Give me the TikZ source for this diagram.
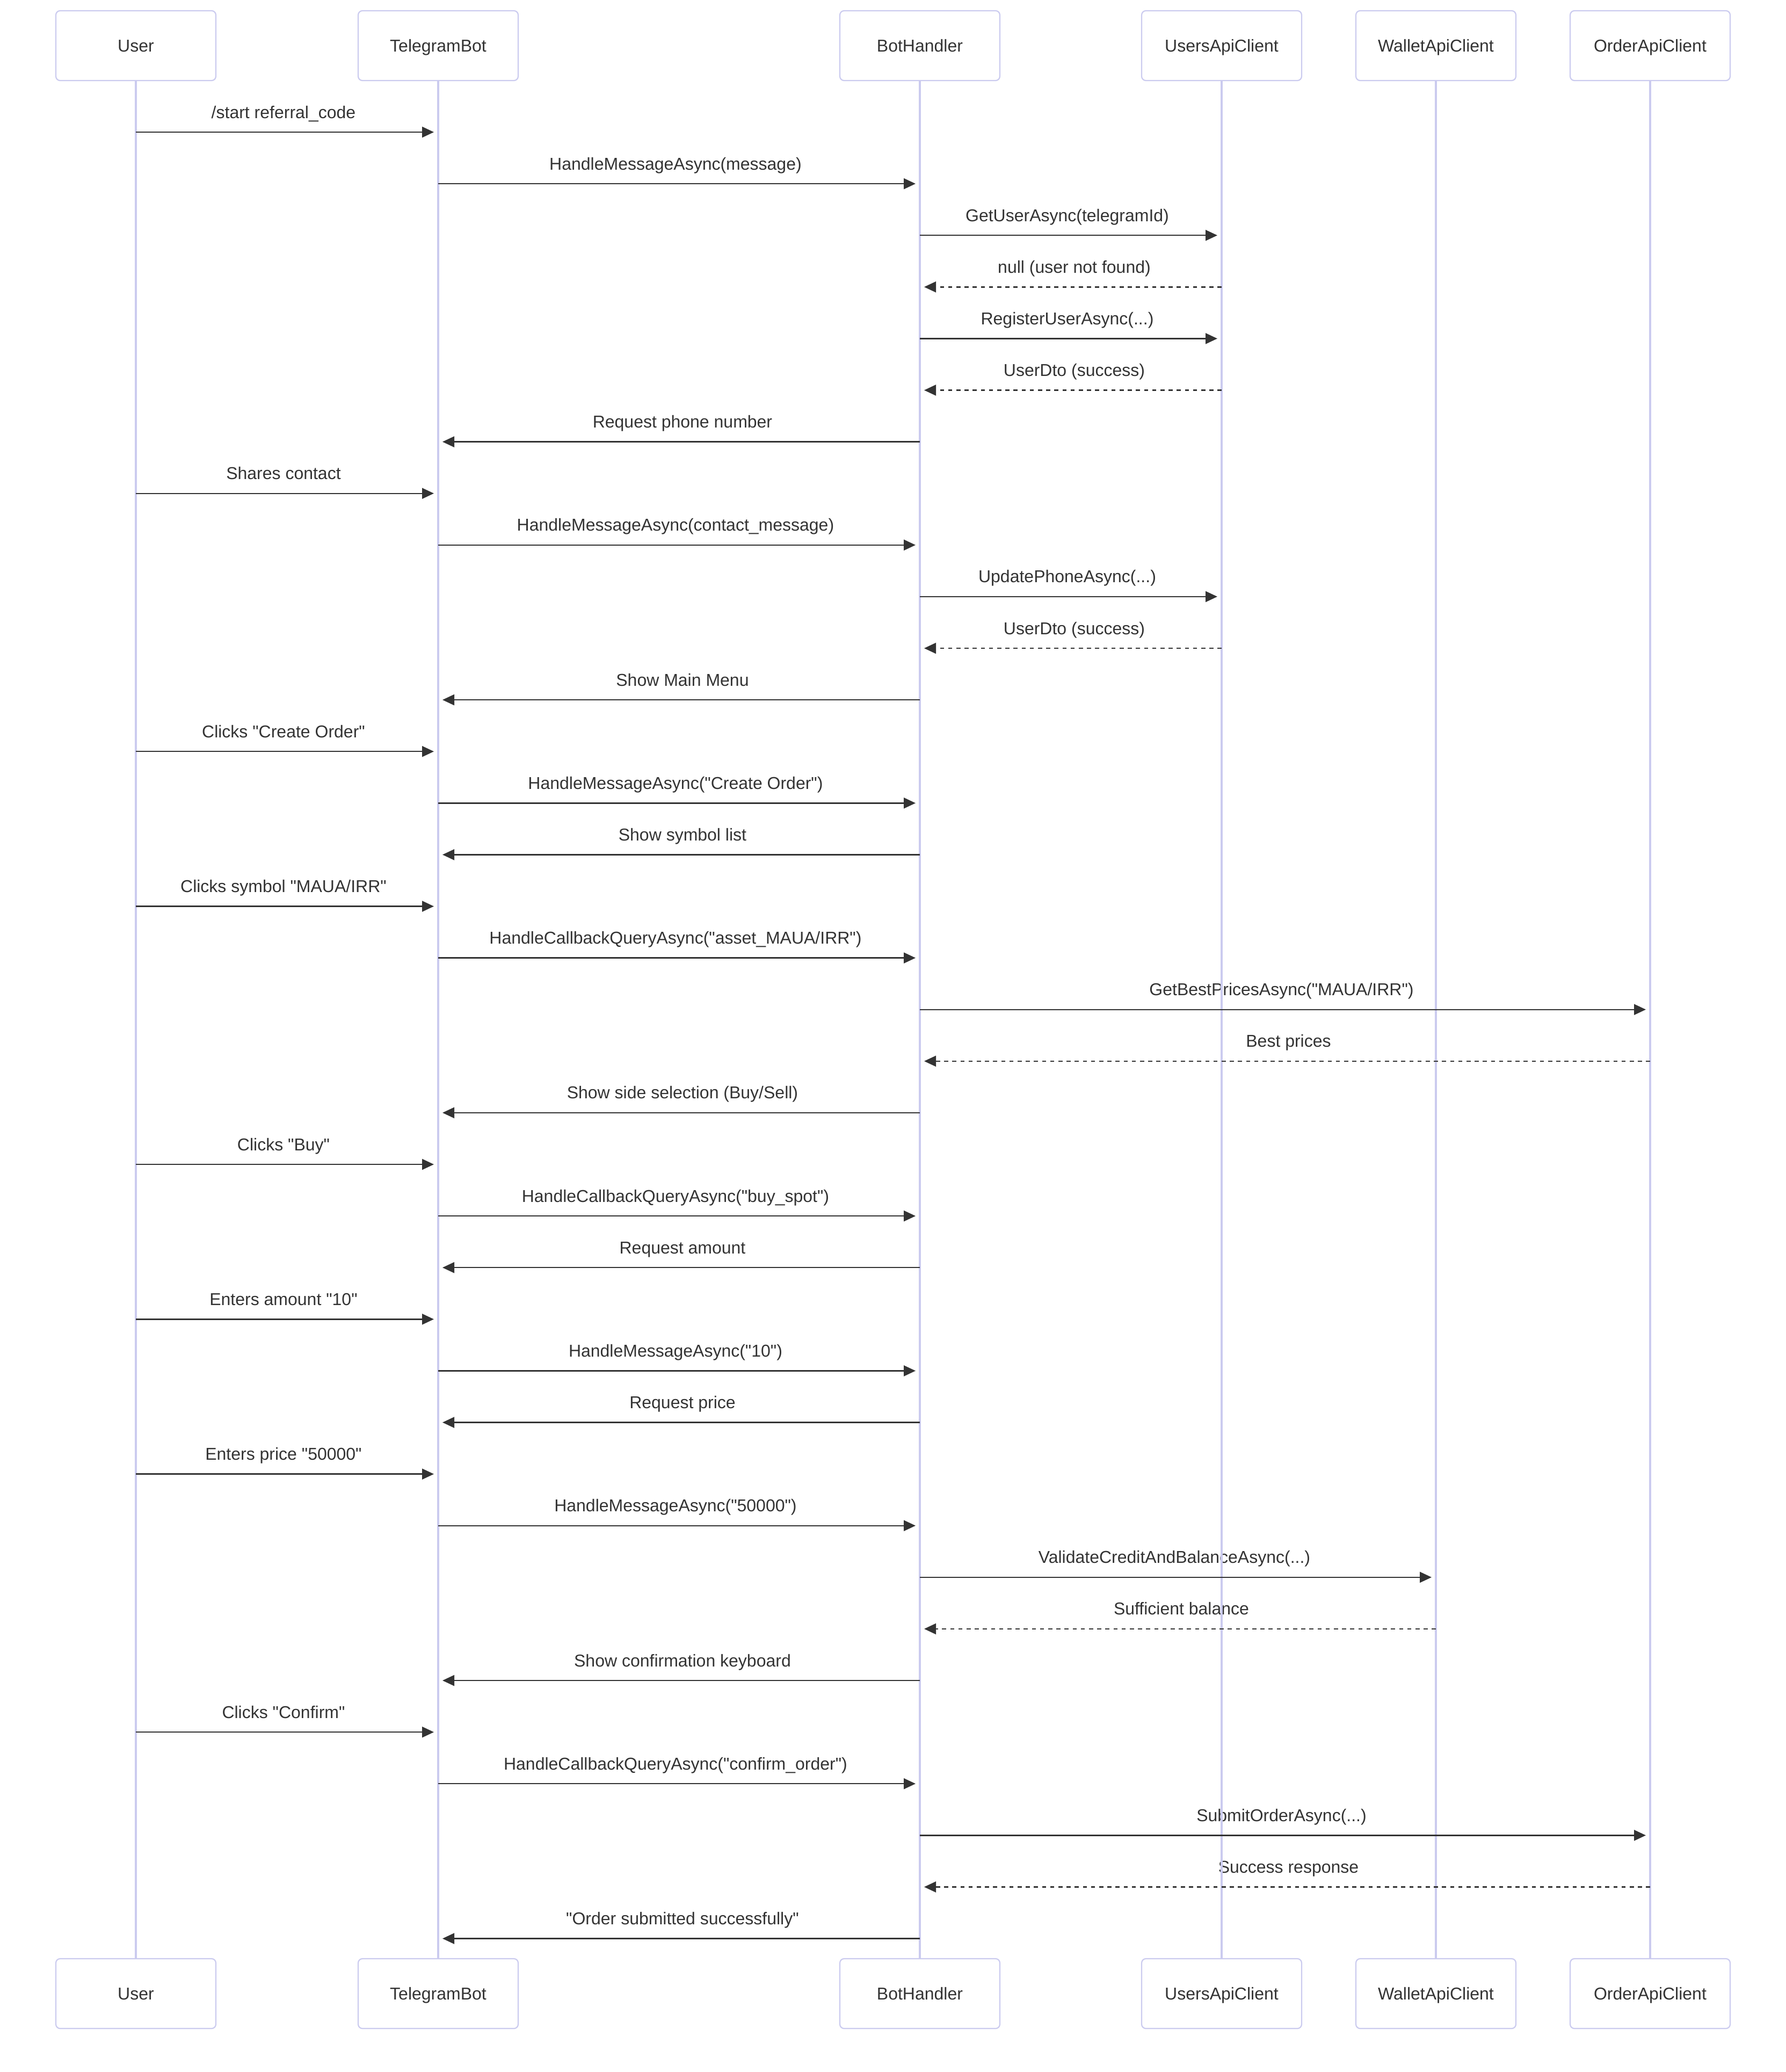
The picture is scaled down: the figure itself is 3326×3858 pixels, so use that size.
\documentclass[tikz,border=0pt]{standalone}
\usepackage{fontspec}
\newfontfamily\lib{Liberation Sans}
\usetikzlibrary{arrows.meta,calc}
\definecolor{lav}{HTML}{CBCBEF}
\definecolor{ink}{HTML}{333333}
\begin{document}
\begin{tikzpicture}[x=0.25pt,y=-0.25pt,
  actor/.style={draw=lav, line width=0.55pt, fill=white, rounded corners=2pt,
    minimum width=74.5pt, minimum height=32.5pt, inner sep=0pt,
    text height=7.5pt, text depth=1.77pt,
    font=\lib\fontsize{8pt}{9.6pt}\selectfont, text=ink},
  life/.style={draw=lav, line width=1pt},
  lbl/.style={font=\lib\fontsize{8pt}{9.6pt}\selectfont, text=ink, anchor=base, inner sep=0pt, yshift=6.5pt},
  req/.style={draw=ink, line width=0.6pt, -{Triangle[length=5.5pt,width=5pt]}, shorten >=2pt},
  ret/.style={req, dash pattern=on 1.9pt off 1.9pt}]
\useasboundingbox (0,0) rectangle (3326,3858);
\foreach \n/\x/\t in {U/253/User, T/816/TelegramBot, B/1713/BotHandler,
  A/2275/UsersApiClient, W/2674/WalletApiClient, O/3073/OrderApiClient}{
  \node[actor] (\n top) at (\x,85) {\t};
  \node[actor] (\n bot) at (\x,3712) {\t};
}
\def\msgs{
 1/U/T/req/{/start referral\_code},
 2/T/B/req/{HandleMessageAsync(message)},
 3/B/A/req/{GetUserAsync(telegramId)},
 4/A/B/ret/{null (user not found)},
 5/B/A/req/{RegisterUserAsync(...)},
 6/A/B/ret/{UserDto (success)},
 7/B/T/req/{Request phone number},
 8/U/T/req/{Shares contact},
 9/T/B/req/{HandleMessageAsync(contact\_message)},
 10/B/A/req/{UpdatePhoneAsync(...)},
 11/A/B/ret/{UserDto (success)},
 12/B/T/req/{Show Main Menu},
 13/U/T/req/{Clicks "Create Order"},
 14/T/B/req/{HandleMessageAsync("Create Order")},
 15/B/T/req/{Show symbol list},
 16/U/T/req/{Clicks symbol "MAUA/IRR"},
 17/T/B/req/{HandleCallbackQueryAsync("asset\_MAUA/IRR")},
 18/B/O/req/{GetBestPricesAsync("MAUA/IRR")},
 19/O/B/ret/{Best prices},
 20/B/T/req/{Show side selection (Buy/Sell)},
 21/U/T/req/{Clicks "Buy"},
 22/T/B/req/{HandleCallbackQueryAsync("buy\_spot")},
 23/B/T/req/{Request amount},
 24/U/T/req/{Enters amount "10"},
 25/T/B/req/{HandleMessageAsync("10")},
 26/B/T/req/{Request price},
 27/U/T/req/{Enters price "50000"},
 28/T/B/req/{HandleMessageAsync("50000")},
 29/B/W/req/{ValidateCreditAndBalanceAsync(...)},
 30/W/B/ret/{Sufficient balance},
 31/B/T/req/{Show confirmation keyboard},
 32/U/T/req/{Clicks "Confirm"},
 33/T/B/req/{HandleCallbackQueryAsync("confirm\_order")},
 34/B/O/req/{SubmitOrderAsync(...)},
 35/O/B/ret/{Success response},
 36/B/T/req/{"Order submitted successfully"}}
\foreach \i/\f/\t/\k/\l in \msgs {
  \pgfmathsetmacro\yy{246+(\i-1)*96.1}
  \coordinate (m\i s) at (\f top.center |- 0,\yy);
  \coordinate (m\i e) at (\t top.center |- 0,\yy);
  \coordinate (m\i f) at ($(m\i e)!3.25pt!(m\i s)$);
  \node[lbl] (l\i) at ($(m\i s)!0.5!(m\i f)$) {\l};
}
\foreach \n in {U,T,B,A,W,O}{
  \draw[life] (\n top.south) -- (\n bot.north);
}
\foreach \i/\f/\t/\k/\l in \msgs {
  \draw[\k] (m\i s) -- (m\i e);
}
\end{tikzpicture}
\end{document}
